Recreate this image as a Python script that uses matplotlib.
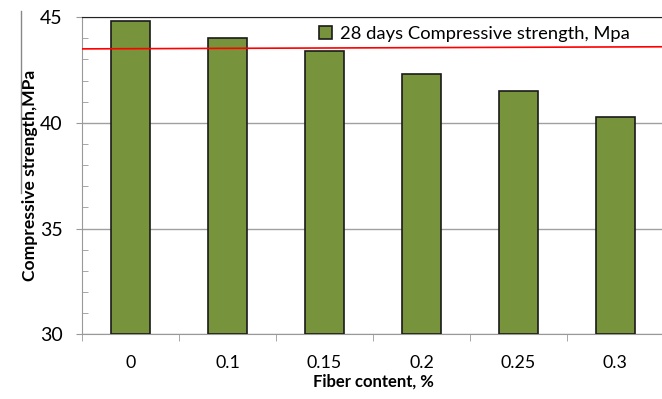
import numpy as np
from matplotlib import pyplot as plt
from matplotlib.ticker import MultipleLocator

fiber = ["0", "0.1", "0.15", "0.2", "0.25", "0.3"]
strength = [44.8, 44.0, 43.4, 42.3, 41.5, 40.3]
red_line = [43.5, 43.6]

plt.rcParams['font.family'] = ['Lato', 'DejaVu Sans']

fig = plt.figure(figsize=(6.62, 3.99), dpi=100)
ax = fig.add_axes([0.1239, 0.162, 0.879, 0.795])

x = np.arange(len(fiber))
ax.bar(x, np.array(strength) - 30, bottom=30, width=0.4, color="#77933C",
       edgecolor="#1a1a1a", linewidth=1.2, zorder=3,
       label="28 days Compressive strength, Mpa")
ax.plot([-0.5, 5.5], red_line, color="red", lw=1.2, zorder=4)

ax.set_xlim(-0.5, 5.5)
ax.set_ylim(30, 45)
ax.set_xticks(x)
ax.set_xticklabels(fiber)
ax.set_xticks(np.arange(-0.5, 6, 1), minor=True)
ax.tick_params(axis="x", which="major", length=0, labelsize=12.8, pad=14.5)
ax.tick_params(axis="x", which="minor", direction="out", length=5, color="#999999")
ax.yaxis.set_major_locator(MultipleLocator(5))
ax.yaxis.set_minor_locator(MultipleLocator(1))
ax.tick_params(axis="y", which="major", direction="out", length=4, color="#999999",
               labelsize=14, pad=10)
ax.tick_params(axis="y", which="minor", direction="in", length=4, color="#999999")
ax.grid(axis="y", which="major", color="#a0a0a0", lw=1, zorder=0)

for s in ["left", "bottom"]:
    ax.spines[s].set_color("#999999")
ax.spines["top"].set_color("#222222")
ax.spines["right"].set_visible(False)

ax.set_xlabel("Fiber content, %", fontsize=12, fontweight="bold", labelpad=2)
ax.set_ylabel("Compressive strength,MPa", fontsize=12.6, fontweight="bold", labelpad=1.5)

ax.legend(loc="upper right", bbox_to_anchor=(0.969, 1.025), frameon=False, fontsize=13.2,
          handlelength=0.7, handleheight=0.7, handletextpad=0.4)

# leftover border piece from the original chart frame
fig.add_artist(plt.Line2D([21 / 662, 21 / 662], [1 - 11 / 399, 1 - 193 / 399],
                          color="#888888", lw=1))

fig.savefig("out.png", dpi=100)
